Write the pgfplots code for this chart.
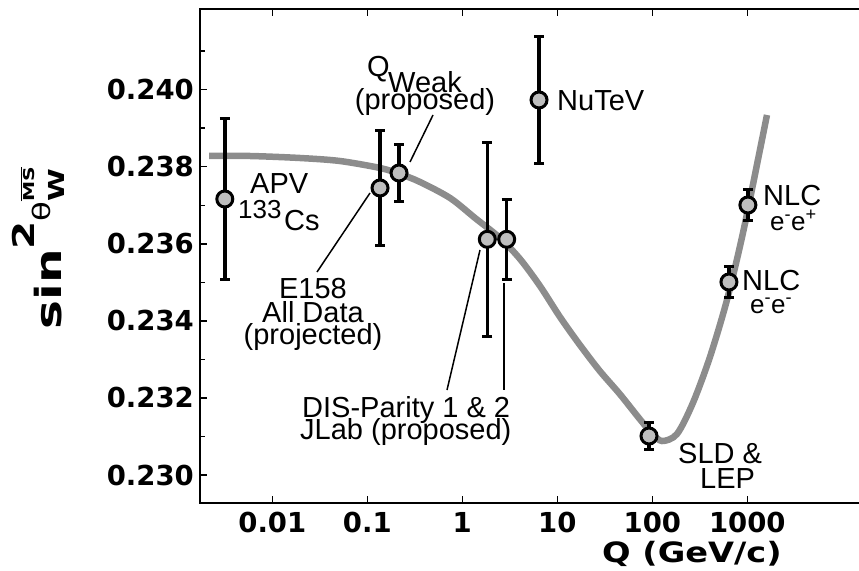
\documentclass[border=0pt]{standalone}
\usepackage{pgfplots}
\pgfplotsset{compat=1.18}
\usepackage{fontspec}
\usepackage{amsmath}
\setmainfont{Liberation Sans}
\newfontfamily\dejavu{DejaVu Sans}
\definecolor{curvegray}{RGB}{140,140,140}
\definecolor{markgray}{RGB}{190,190,190}
\newcommand\tickfont{\dejavu\bfseries\fontsize{27.5}{27.5}\selectfont}
\newcommand\lab{\fontsize{29}{29}\selectfont}
\newcommand\labs{\fontsize{26}{26}\selectfont}
\begin{document}
\begin{tikzpicture}
\begin{axis}[
  at={(200pt,-503pt)}, anchor=south west,
  scale only axis, width=666pt, height=494pt,
  xmode=log, xmin=0.001733, xmax=17760,
  ymin=0.229273, ymax=0.242094,
  xtick={0.01,0.1,1,10,100,1000},
  xticklabels={0.01,0.1,1,10,100,1000},
  xminorticks=false,
  ytick={0.230,0.232,0.234,0.236,0.238,0.240},
  yticklabels={0.230,0.232,0.234,0.236,0.238,0.240},
  minor ytick={0.231,0.233,0.235,0.237,0.239,0.241},
  ytick pos=left,
  xtick pos=both,
  tick align=inside,
  major tick length=7pt, minor tick length=5pt,
  tick style={black, line width=1.5pt},
  axis line style={line width=2pt},
  ticklabel style={font=\tickfont},
  xticklabel style={anchor=north, inner sep=0pt, yshift=-9pt},
  yticklabel style={anchor=east, inner sep=0pt, xshift=-6pt},
  error bars/error bar style={line width=3.5pt, black},
]
\addplot[curvegray, line width=6.5pt, smooth] coordinates {
 (0.002158,0.238279) (0.005821,0.238279) (0.01954,0.238227) (0.05152,0.238149)
 (0.1361,0.237968) (0.2213,0.237812) (0.3592,0.237604) (0.7430,0.237189)
 (1.361,0.236670) (2.493,0.236151) (4.049,0.235606) (6.573,0.234905)
 (10.67,0.234101) (17.29,0.233374) (28.03,0.232699) (45.44,0.232102)
 (73.7,0.231453) (98.4,0.231090) (126.5,0.230882)
 (181.9,0.231064) (267.4,0.231869) (404.4,0.233063)
 (610.6,0.234542) (899.8,0.236281) (1358,0.238435) (1611,0.239344)
};
\addplot[only marks, mark=*, mark size=8pt, line width=3pt,
  mark options={fill=markgray, draw=black, line width=3pt},
  error bars/.cd, y dir=both, y explicit,
  error bar style={line width=3.5pt, black},
  error mark options={rotate=90, line width=3pt, mark size=5pt, black}]
 coordinates {
 (0.003162,0.237163) +- (0,0.00208)
 (0.1361,0.237449) +- (0,0.00148)
 (0.2157,0.237838) +- (0,0.00073)
 (1.833,0.236117) +- (0,0.00252)
 (2.932,0.236117) +- (0,0.00104)
 (6.42,0.239733) +- (0,0.00164)
 (92.3,0.231012) +- (0,0.00034)
 (641,0.235009) +- (0,0.00040)
 (1014,0.237007) +- (0,0.00040)
};
\end{axis}
% y label
\node[rotate=90, inner sep=0pt] at (38pt,-245pt) {\scalebox{1.35}[1]{\dejavu\bfseries\fontsize{36}{36}\selectfont sin\raisebox{27pt}{\fontsize{30}{30}\selectfont 2}\raisebox{11pt}{\fontsize{24}{24}\selectfont\mdseries θ}\makebox[0pt][l]{\raisebox{27pt}{\fontsize{15}{15}\selectfont$\overline{\text{MS}}$}}\raisebox{-3pt}{\fontsize{22}{22}\selectfont W}\hspace{6pt}}};
% x label
\node[anchor=base west, inner sep=0pt] at (602pt,-562pt) {\scalebox{1.2}[1]{\dejavu\bfseries\fontsize{28}{28}\selectfont Q (GeV/c)}};
% annotations
\node[anchor=base west, inner sep=0pt, font=\lab] at (250pt,-193pt) {APV};
\node[anchor=base west, inner sep=0pt, font=\labs] at (238pt,-218pt) {133};
\node[anchor=base west, inner sep=0pt, font=\lab] at (284pt,-230pt) {Cs};
\node[anchor=base, inner sep=0pt, font=\lab] at (313pt,-298pt) {E158};
\node[anchor=base, inner sep=0pt, font=\lab] at (313pt,-322pt) {All Data};
\node[anchor=base, inner sep=0pt, font=\lab] at (313pt,-344pt) {(projected)};
\node[anchor=base west, inner sep=0pt, font=\lab] at (367pt,-76pt) {Q};
\node[anchor=base west, inner sep=0pt, font=\lab] at (388pt,-92pt) {Weak};
\node[anchor=base, inner sep=0pt, font=\lab] at (425pt,-109pt) {(proposed)};
\node[anchor=base west, inner sep=0pt, font=\lab] at (557pt,-110pt) {NuTeV};
\node[anchor=base west, inner sep=0pt, font=\lab] at (763pt,-205pt) {NLC};
\node[anchor=base west, inner sep=0pt, font=\labs] at (770pt,-230pt) {e\textsuperscript{-}e\textsuperscript{+}};
\node[anchor=base west, inner sep=0pt, font=\lab] at (742pt,-290pt) {NLC};
\node[anchor=base west, inner sep=0pt, font=\labs] at (750pt,-313pt) {e\textsuperscript{-}e\textsuperscript{-}};
\node[anchor=base west, inner sep=0pt, font=\lab] at (678pt,-463pt) {SLD \&};
\node[anchor=base west, inner sep=0pt, font=\lab] at (700pt,-488pt) {LEP};
\node[anchor=base west, inner sep=0pt, font=\lab] at (302pt,-417pt) {DIS-Parity 1 \& 2};
\node[anchor=base west, inner sep=0pt, font=\lab] at (300pt,-439pt) {JLab (proposed)};
% leader lines
\draw[line width=1.5pt] (317pt,-272pt) -- (370pt,-193pt);
\draw[line width=1.5pt] (433pt,-115pt) -- (410pt,-162pt);
\draw[line width=1.5pt] (447pt,-390pt) -- (480pt,-250pt);
\draw[line width=1.5pt] (504pt,-283pt) -- (504pt,-390pt);
\pgfresetboundingbox
\useasboundingbox (0pt,0pt) rectangle (859pt,-570pt);
\end{tikzpicture}
\end{document}
